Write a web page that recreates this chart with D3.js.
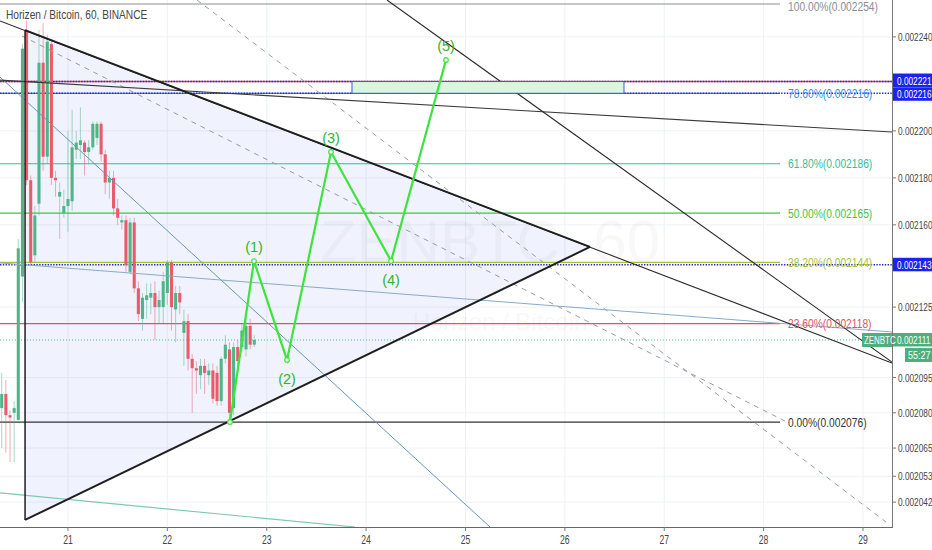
<!DOCTYPE html>
<html><head><meta charset="utf-8">
<script src="https://cdn.jsdelivr.net/npm/d3@7"></script>
<style>body{margin:0;background:#fff;} svg{display:block;font-family:"Liberation Sans",Arial,sans-serif;}</style>
</head><body><svg id="c" width="932" height="550"></svg>
<script>
// ---------- data ----------
const title = "Horizen / Bitcoin, 60, BINANCE";
const watermark1 = "ZENBTC, 60";
const watermark2 = "Horizen / Bitcoin";
const symbol = "ZENBTC";
const countdown = "55:27";
const dayTicks = [21, 22, 23, 24, 25, 26, 27, 28, 29];
const priceTicks = [0.002240, 0.002200, 0.002180, 0.002160, 0.002125, 0.002095, 0.002080, 0.002065, 0.002053, 0.002042];
const firstBarDay = 20 + 8 / 24;   // 20th, 08:00
const barDays = 1 / 24;            // 60-minute bars
const opens  = [0.002082,0.002088,0.002079,0.002080,0.002077,0.002138,0.002243,0.002179,0.002147,0.002169,0.002229,0.002189,0.002237,0.002180,0.002172,0.002165,0.002168,0.002170,0.002192,0.002194,0.002195,0.002191,0.002193,0.002197,0.002203,0.002190,0.002178,0.002180,0.002167,0.002161,0.002162,0.002140,0.002161,0.002133,0.002120,0.002128,0.002129,0.002131,0.002125,0.002125,0.002131,0.002144,0.002124,0.002131,0.002114,0.002119,0.002103,0.002099,0.002096,0.002100,0.002096,0.002098,0.002097,0.002085,0.002103,0.002107,0.002082,0.002108,0.002108,0.002107,0.002117,0.002109];
const highs  = [0.002097,0.002094,0.002081,0.002085,0.002154,0.002237,0.002247,0.002181,0.002168,0.002243,0.002246,0.002241,0.002239,0.002183,0.002178,0.002175,0.002200,0.002209,0.002200,0.002210,0.002196,0.002196,0.002204,0.002204,0.002204,0.002192,0.002183,0.002183,0.002171,0.002164,0.002164,0.002163,0.002163,0.002136,0.002131,0.002135,0.002135,0.002136,0.002132,0.002140,0.002145,0.002145,0.002134,0.002134,0.002124,0.002122,0.002105,0.002102,0.002103,0.002103,0.002101,0.002101,0.002100,0.002104,0.002113,0.002110,0.002110,0.002111,0.002118,0.002120,0.002120,0.002113];
const lows   = [0.002065,0.002063,0.002059,0.002059,0.002076,0.002127,0.002177,0.002143,0.002144,0.002164,0.002183,0.002186,0.002177,0.002172,0.002154,0.002163,0.002157,0.002166,0.002188,0.002188,0.002181,0.002186,0.002192,0.002194,0.002187,0.002173,0.002171,0.002164,0.002160,0.002158,0.002140,0.002139,0.002131,0.002119,0.002115,0.002120,0.002122,0.002111,0.002118,0.002118,0.002126,0.002115,0.002110,0.002122,0.002100,0.002098,0.002080,0.002088,0.002090,0.002088,0.002092,0.002084,0.002083,0.002083,0.002101,0.002076,0.002079,0.002099,0.002106,0.002104,0.002107,0.002108];
const closes = [0.002088,0.002079,0.002078,0.002082,0.002150,0.002235,0.002179,0.002144,0.002164,0.002229,0.002189,0.002238,0.002180,0.002179,0.002174,0.002168,0.002171,0.002193,0.002195,0.002196,0.002191,0.002193,0.002203,0.002203,0.002190,0.002178,0.002180,0.002167,0.002163,0.002162,0.002143,0.002161,0.002133,0.002122,0.002129,0.002130,0.002131,0.002125,0.002128,0.002136,0.002144,0.002125,0.002131,0.002127,0.002119,0.002103,0.002099,0.002098,0.002100,0.002097,0.002098,0.002086,0.002085,0.002103,0.002109,0.002080,0.002108,0.002102,0.002115,0.002117,0.002109,0.002111];

// Fibonacci retracement
const fibLabels = ["100.00%", "78.60%", "61.80%", "50.00%", "38.20%", "23.60%", "0.00%"];
const fibPrices = [0.002254, 0.002216, 0.002186, 0.002165, 0.002144, 0.002118, 0.002076];
const fibDays = [20.0, 28.165];

// horizontal price lines
const hLinePrices = [0.002221, 0.002216, 0.002143];

// drawings: [day, price]
const triangle = [[20.568, 0.0022429], [26.253, 0.0021506], [20.568, 0.0020344]];
const trendUpper = [[20.316, 0.0022468], [29.292, 0.0021012]];
const trendSteep = [[24.210, 0.0022557], [29.292, 0.0021016]];
const trendFlat = [[20.316, 0.0022216], [29.292, 0.0021995]];
const dashedA = [[22.298, 0.0022557], [29.232, 0.0020335]];
const dashedB = [[20.537, 0.0022404], [28.215, 0.0020765]];
const thinBlueA = [[20.316, 0.0022229], [25.247, 0.0020314]];
const thinBlueB = [[20.316, 0.0021438], [29.292, 0.0021144]];
const thinTeal = [[20.316, 0.0020459], [23.888, 0.0020314]];
const zoneDays = [23.858, 26.595];
const zonePrices = [0.002221, 0.002216];
const wavePoints = [[22.630, 0.0020761], [22.872, 0.0021446], [23.204, 0.0021025], [23.647, 0.0021910], [24.251, 0.0021446], [24.804, 0.0022302]];
const waveLabels = ["", "(1)", "(2)", "(3)", "(4)", "(5)"];

// ---------- styles ----------
const W = 932, H = 550, PW = 892, PH = 527;
const fibColors = ["#8a8d96", "#2f8ff0", "#2fbf9c", "#45c245", "#a3c23a", "#dd5361", "#333333"];
const upC = "#4fb587", downC = "#ea5a6b";

const svg = d3.select("#c");
const x = d3.scaleLinear().domain([20.316, 29.292]).range([0, PW]);
const y = d3.scaleLinear().domain([0.0020314, 0.0022557]).range([PH, 0]);
const fmt = d3.format(".6f");

svg.append("rect").attr("width", W).attr("height", H).attr("fill", "#fff");
svg.append("defs").append("clipPath").attr("id", "plot")
  .append("rect").attr("width", PW).attr("height", PH);

const g = svg.append("g").attr("clip-path", "url(#plot)");

// grid
g.selectAll(".vg").data(dayTicks).enter().append("line")
  .attr("x1", d => x(d)).attr("x2", d => x(d)).attr("y1", 0).attr("y2", PH)
  .attr("stroke", "#eef1f6").attr("stroke-width", 1);
g.selectAll(".hg").data(priceTicks).enter().append("line")
  .attr("x1", 0).attr("x2", PW).attr("y1", d => y(d)).attr("y2", d => y(d))
  .attr("stroke", "#eef1f6").attr("stroke-width", 1);

// watermark
g.append("text").attr("x", 490).attr("y", 262).attr("text-anchor", "middle")
  .attr("font-size", 60).attr("fill", "#000").attr("opacity", 0.022).text(watermark1);
g.append("text").attr("x", 500).attr("y", 330).attr("text-anchor", "middle")
  .attr("font-size", 24).attr("fill", "#000").attr("opacity", 0.025).text(watermark2);

// triangle fill
const line = d3.line().x(d => x(d[0])).y(d => y(d[1]));
g.append("path").attr("d", line(triangle) + "Z").attr("fill", "rgba(90,125,235,0.09)").attr("stroke", "none");

// fib lines
fibPrices.forEach((p, i) => {
  g.append("line").attr("x1", x(fibDays[0])).attr("x2", x(fibDays[1]))
    .attr("y1", y(p)).attr("y2", y(p)).attr("stroke", fibColors[i]).attr("stroke-width", i === 6 ? 1.3 : 1.2);
  svg.append("text").attr("transform", `translate(${x(fibDays[1]) + 8},${Math.max(y(p) + 4.5, 11)}) scale(0.82,1)`)
    .attr("font-size", 12.5).attr("fill", fibColors[i]).text(`${fibLabels[i]}(${fmt(p)})`);
});

// horizontal lines
g.append("line").attr("x1", 0).attr("x2", PW).attr("y1", y(hLinePrices[0])).attr("y2", y(hLinePrices[0]))
  .attr("stroke", "#d9536a").attr("stroke-width", 1.5);
hLinePrices.forEach(p => {
  g.append("line").attr("x1", 0).attr("x2", PW).attr("y1", y(p)).attr("y2", y(p))
    .attr("stroke", "#2626c8").attr("stroke-width", 1.4).attr("stroke-dasharray", "1.4,1.4");
});

// candles
const bars = opens.map((o, i) => ({ t: firstBarDay + i * barDays, o, h: highs[i], l: lows[i], c: closes[i] }));
const bw = (x(barDays) - x(0)) * 0.74;
const cg = g.append("g");
cg.selectAll(".wk").data(bars).enter().append("line")
  .attr("x1", d => x(d.t)).attr("x2", d => x(d.t)).attr("y1", d => y(d.h)).attr("y2", d => y(d.l))
  .attr("stroke", d => d.c >= d.o ? upC : downC).attr("stroke-opacity", 0.5).attr("stroke-width", 1);
cg.selectAll(".bd").data(bars).enter().append("rect")
  .attr("x", d => x(d.t) - bw / 2).attr("width", bw)
  .attr("y", d => y(Math.max(d.o, d.c))).attr("height", d => Math.max(1, Math.abs(y(d.o) - y(d.c))))
  .attr("fill", d => d.c >= d.o ? upC : downC);

// current price dotted line
const last = bars[bars.length - 1];
g.append("line").attr("x1", 0).attr("x2", PW).attr("y1", y(last.c)).attr("y2", y(last.c))
  .attr("stroke", "#4fb587").attr("stroke-width", 1).attr("stroke-dasharray", "1,2");

// trend lines
const tl = (pts, color, w, dash) => {
  const p = g.append("path").attr("d", line(pts)).attr("fill", "none").attr("stroke", color).attr("stroke-width", w);
  if (dash) p.attr("stroke-dasharray", dash);
};
tl(thinTeal, "#7cc8b0", 1.2);
tl(thinBlueA, "#6a93b8", 1);
tl(thinBlueB, "#8aaac8", 1);
tl(dashedA, "#9a9ca3", 1, "5,5");
tl(dashedB, "#9a9ca3", 1, "5,5");
tl(trendFlat, "#3a3a3a", 1.1);
tl(trendSteep, "#2a2a2a", 1.1);
tl(trendUpper, "#2a2a2a", 1.1);
// triangle edges
tl([triangle[0], triangle[1]], "#1f1f1f", 2);
tl([triangle[2], triangle[1]], "#1f1f1f", 2);
tl([triangle[0], triangle[2]], "#1f1f1f", 1.5);

// zone rectangle
g.append("rect").attr("x", x(zoneDays[0])).attr("width", x(zoneDays[1]) - x(zoneDays[0]))
  .attr("y", y(zonePrices[0])).attr("height", y(zonePrices[1]) - y(zonePrices[0]))
  .attr("fill", "#d9f6df").attr("stroke", "#2f5fe0").attr("stroke-width", 1);

// Elliott wave
g.append("path").attr("d", line(wavePoints)).attr("fill", "none").attr("stroke", "#3ee33e").attr("stroke-width", 2.2);
g.selectAll(".wp").data(wavePoints).enter().append("circle")
  .attr("cx", d => x(d[0])).attr("cy", d => y(d[1])).attr("r", 2.3)
  .attr("fill", "#fff").attr("stroke", "#3ee33e").attr("stroke-width", 1.2);
wavePoints.forEach((d, i) => {
  if (!waveLabels[i]) return;
  const up = i % 2 === 1;
  g.append("text").attr("x", x(d[0])).attr("y", y(d[1]) + (up ? -9 : 24))
    .attr("text-anchor", "middle").attr("font-size", 14.5).attr("fill", "#2fb52f").text(waveLabels[i]);
});

// title
svg.append("text").attr("transform", "translate(6,19) scale(0.78,1)").attr("font-size", 13)
  .attr("fill", "#444").text(title);

// axes
svg.append("line").attr("x1", PW + 0.5).attr("x2", PW + 0.5).attr("y1", 0).attr("y2", PH)
  .attr("stroke", "#777").attr("stroke-width", 1);
svg.append("line").attr("x1", 0).attr("x2", PW + 1).attr("y1", PH + 0.5).attr("y2", PH + 0.5)
  .attr("stroke", "#666").attr("stroke-width", 1.2);
priceTicks.forEach(p => {
  svg.append("line").attr("x1", PW).attr("x2", PW + 4).attr("y1", y(p)).attr("y2", y(p)).attr("stroke", "#777");
  svg.append("text").attr("transform", `translate(${PW + 6},${y(p) + 4}) scale(0.72,1)`)
    .attr("font-size", 11.5).attr("fill", "#444").text(fmt(p));
});
dayTicks.forEach(d => {
  svg.append("line").attr("x1", x(d)).attr("x2", x(d)).attr("y1", PH).attr("y2", PH + 4).attr("stroke", "#777");
  svg.append("text").attr("transform", `translate(${x(d)},${PH + 17}) scale(0.72,1)`)
    .attr("text-anchor", "middle").attr("font-size", 12).attr("fill", "#444").text(d);
});

// badges
const badge = (p, fill, dy, txt) => {
  const cy = y(p) + dy;
  svg.append("rect").attr("x", PW + 1).attr("y", cy - 7).attr("width", W - PW - 1).attr("height", 13.5).attr("fill", fill);
  svg.append("text").attr("transform", `translate(${PW + 5},${cy + 4}) scale(0.72,1)`)
    .attr("font-size", 11.5).attr("fill", "#fff").text(txt || fmt(p));
};
badge(hLinePrices[0], "#1c22f2", -1);
badge(hLinePrices[1], "#1c22f2", 1);
badge(hLinePrices[2], "#1c22f2", 0);
badge(last.c, "#4caf7d", 0);
svg.append("rect").attr("x", 905).attr("y", y(last.c) + 8).attr("width", 27).attr("height", 14).attr("fill", "#4caf7d");
svg.append("text").attr("transform", `translate(908,${y(last.c) + 19}) scale(0.78,1)`)
  .attr("font-size", 11.5).attr("fill", "#fff").text(countdown);
svg.append("rect").attr("x", 862).attr("y", y(last.c) - 7).attr("width", 30).attr("height", 14).attr("fill", "#4caf7d");
svg.append("text").attr("transform", `translate(864,${y(last.c) + 4}) scale(0.72,1)`)
  .attr("font-size", 11).attr("fill", "#fff").text(symbol);
</script></body></html>
